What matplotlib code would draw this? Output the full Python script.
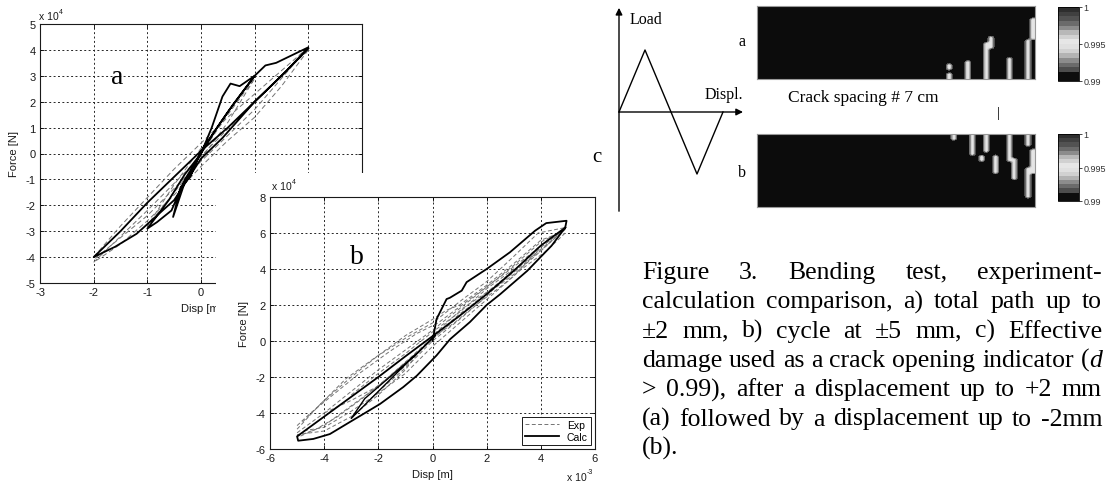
import numpy as np
import matplotlib.pyplot as plt
from matplotlib.colors import ListedColormap
from matplotlib.patches import Rectangle

plt.rcParams['axes.unicode_minus'] = False

# ---- data: plot a (disp in mm, force in 1e4 N) ----
calc_a_x = [0.0, 0.2, 0.4, 0.55, 0.72, 1.0, 0.5, 0.0, -0.2, -0.38, -0.52, -0.3, 0.0,
            -0.3, -0.55, -0.82, -1.0, -0.6, -0.3, 0.0, 0.3, 0.6, 1.0, 1.2, 1.4, 2.0,
            1.6, 1.0, 0.4, 0.0, -0.5, -1.2, -1.6, -2.0, -1.5, -1.0, -0.5, 0.0, 0.5,
            1.0, 1.5, 2.0]
calc_a_y = [0.0, 1.0, 2.2, 2.7, 2.6, 3.0, 1.6, 0.1, -0.9, -1.3, -2.45, -1.1, 0.0,
            -1.0, -2.2, -2.65, -2.9, -1.8, -0.8, 0.0, 1.0, 1.9, 3.0, 3.4, 3.5, 4.1,
            3.2, 2.0, 0.6, -0.2, -1.8, -3.1, -3.6, -4.0, -3.0, -1.9, -0.9, 0.1, 1.0,
            2.0, 3.0, 4.05]

exp_a_x = [
    [-2.0, -1.0, 0.0, 1.0, 2.0],
    [2.0, 1.0, 0.0, -1.0, -2.0],
    [0.0, 0.5, 1.0, 0.5, 0.0, -0.5, -1.0, -0.5, 0.0],
    [-2.0, -1.5, -1.0, -0.5, 0.0, 0.5, 1.0, 1.5, 2.0],
    [2.0, 1.5, 1.0, 0.5, 0.0, -0.5, -1.0, -1.5, -2.0],
]
exp_a_y = [
    [-4.2, -2.2, -0.1, 2.0, 4.0],
    [4.1, 1.7, -0.3, -2.4, -4.1],
    [0.0, 1.5, 2.9, 1.2, -0.2, -1.5, -2.8, -1.2, 0.2],
    [-4.0, -2.8, -1.7, -0.6, 0.4, 1.4, 2.3, 3.2, 4.1],
    [4.0, 2.6, 1.4, 0.5, -0.5, -1.6, -2.6, -3.5, -4.2],
]

# ---- data: plot b (disp in 1e-3 m, force in 1e4 N) ----
calc_b_x = [0.0, 0.15, 0.52, 0.64, 1.08, 1.26, 2.0, 2.86, 3.79, 4.2, 4.95, 4.9, 4.4,
            3.5, 2.5, 2.0, 1.38, 0.65, 0.15, -0.58, -1.08, -1.94, -2.56, -3.05, -3.79,
            -4.4, -4.96, -5.0, -4.0, -3.0, -2.0, -1.0, 0.03, 1.0, 2.0, 3.0, 4.0, 4.9]
calc_b_y = [0.0, 1.22, 2.33, 2.4, 2.8, 3.27, 4.0, 4.93, 6.13, 6.55, 6.68, 6.3, 5.3,
            3.9, 2.6, 2.0, 1.05, 0.1, -0.8, -1.93, -2.56, -3.5, -4.06, -4.5, -5.17,
            -5.44, -5.54, -5.3, -4.2, -3.1, -2.0, -0.85, 0.3, 1.4, 2.6, 3.9, 5.3, 6.3]
calc_b2_x = [0.1, -1.0, -2.0, -3.0, -2.5, -1.5, -0.5, 0.1]
calc_b2_y = [0.3, -1.3, -2.8, -4.3, -3.2, -1.9, -0.6, 0.3]

exp_b_x = [
    [-5.0, -4.2, -3.2, -2.1, -0.9, 0.0, 1.1, 2.0, 3.0, 3.9, 4.9,
     4.9, 3.9, 2.4, 1.1, 0.15, -0.5, -1.0, -2.0, -3.0, -4.0, -5.0],
    [-5.0, -4.0, -3.0, -2.0, -1.0, 0.0, 1.0, 2.0, 3.0, 4.0, 4.8,
     4.0, 3.0, 2.0, 1.0, 0.0, -1.0, -2.0, -3.0, -4.0, -4.9],
    [-4.8, -4.0, -3.0, -2.0, -1.0, 0.0, 0.5, 1.0, 2.0, 3.0, 4.0, 4.7,
     4.0, 3.0, 2.0, 1.0, 0.0, -1.0, -2.0, -3.0, -4.0, -4.8],
    [-3.0, -2.0, -1.0, 0.0, 1.0, 2.0, 3.0, 2.0, 1.0, 0.0, -1.0, -2.0, -3.0],
    [-4.0, -3.0, -2.0, -1.0, 0.0, 1.0, 2.0, 3.0, 4.0, 5.0],
    [-5.0, -4.5, -3.6, -2.7, -1.6, -0.6, 0.2, 1.0, 1.9, 2.8, 3.6, 4.4, 4.9],
    [4.9, 4.2, 3.3, 2.5, 1.6, 0.8, 0.0, -0.8, -1.7, -2.6, -3.5, -4.3, -5.0],
]
exp_b_y = [
    [-4.9, -3.6, -2.1, -0.9, 0.25, 1.0, 2.3, 3.3, 4.7, 6.0, 6.3,
     6.2, 4.9, 3.1, 1.8, 0.5, -0.6, -1.6, -3.0, -4.2, -5.0, -5.2],
    [-5.1, -4.0, -2.8, -1.6, -0.5, 0.6, 1.8, 3.0, 4.2, 5.5, 6.1,
     5.1, 3.9, 2.7, 1.4, 0.1, -1.2, -2.5, -3.6, -4.7, -5.3],
    [-4.5, -3.3, -2.0, -0.8, 0.3, 1.2, 1.7, 2.0, 3.1, 4.3, 5.6, 6.0,
     5.2, 3.6, 2.3, 1.0, -0.3, -1.8, -2.9, -3.9, -4.8, -5.0],
    [-3.0, -1.8, -0.7, 0.5, 1.6, 2.9, 4.0, 2.5, 1.2, 0.0, -1.5, -2.8, -4.3],
    [-4.0, -3.3, -2.5, -1.4, 0.2, 1.5, 2.6, 3.7, 5.0, 6.4],
    [-4.7, -4.0, -2.9, -1.8, -0.6, 0.4, 1.0, 1.9, 2.9, 3.9, 4.8, 5.8, 6.2],
    [6.0, 5.0, 4.0, 3.0, 2.0, 1.0, 0.2, -0.9, -2.1, -3.2, -4.2, -4.9, -5.3],
]

# ---- data: load schematic ----
load_time = [0, 1, 3, 4]
load_value = [0, 1, -1, 0]

# ---- data: crack maps (x position, top, bottom as fractions of the map) ----
crack_a_x = [0.687, 0.687, 0.759, 0.84, 0.83, 0.914, 0.986, 0.993, 1.0]
crack_a_y0 = [0.84, 0.95, 0.77, 0.42, 0.5, 0.73, 0.48, 0.18, 0.18]
crack_a_y1 = [0.89, 1.0, 1.0, 0.55, 1.0, 1.0, 1.0, 0.45, 0.45]
crack_b_x = [0.705, 0.773, 0.788, 0.81, 0.838, 0.856, 0.91, 0.935, 0.975, 0.989, 0.995, 1.0]
crack_b_y0 = [0.0, 0.0, 0.23, 0.31, 0.0, 0.31, 0.0, 0.34, 0.0, 0.48, 0.2, 0.2]
crack_b_y1 = [0.05, 0.2, 0.25, 0.33, 0.23, 0.52, 0.34, 0.59, 0.14, 0.85, 0.5, 0.5]
crack_value = 0.9953
cbar_ticks = [0.99, 0.995, 1.0]
cbar_labels = ['0.99', '0.995', '1']
gray_steps = [0.05, 0.05, 0.30, 0.42, 0.55, 0.70, 0.82, 0.88,
              0.90, 0.82, 0.72, 0.55, 0.42, 0.32, 0.25, 0.18]

caption_lines = [
    "Figure 3. Bending test, experiment-",
    "calculation comparison, a) total path up to",
    "±2 mm, b) cycle at ±5 mm, c) Effective",
    "damage used as a crack opening indicator (_d_",
    "> 0.99), after a displacement up to +2 mm",
    "(a) followed by a displacement up to -2mm",
    "(b).",
]

W, H = 1111, 489
fig = plt.figure(figsize=(W / 100, H / 100), dpi=100)
SANS = 'Liberation Sans'
SERIF = 'Liberation Serif'


def box(l, t, r, b):
    return [l / W, 1 - b / H, (r - l) / W, (b - t) / H]


def pt(x, y):
    return x / W, 1 - y / H


def style_matlab(ax):
    ax.grid(True, color='0.15', linestyle=(0, (2, 2.5)), linewidth=0.7)
    ax.tick_params(direction='in', length=3, width=0.6, labelsize=8,
                   labelcolor='0.1', top=True, right=True, pad=3)
    for lab in ax.get_xticklabels() + ax.get_yticklabels():
        lab.set_fontfamily(SANS)
    for s in ax.spines.values():
        s.set_linewidth(0.8)
        s.set_color('0.1')


def sci_label(x, y, exp):
    fig.text(*pt(x, y), 'x 10', fontsize=7.5, family=SANS, color='0.1',
             ha='left', va='center')
    fig.text(*pt(x + 20, y - 5), exp, fontsize=5, family=SANS, color='0.1',
             ha='left', va='center')


# ---- plot a ----
ax_a = fig.add_axes(box(40, 25, 362, 284))
ax_a.set_zorder(1)
for xs, ys in zip(exp_a_x, exp_a_y):
    ax_a.plot(xs, ys, color='0.45', lw=0.7, dashes=(5, 3))
ax_a.plot(calc_a_x, calc_a_y, color='black', lw=1.3)
ax_a.set_xlim(-3, 3)
ax_a.set_ylim(-5, 5)
ax_a.set_xticks(range(-3, 4))
ax_a.set_yticks(range(-5, 6))
style_matlab(ax_a)
ax_a.set_xlabel('Disp [m]', fontsize=8, family=SANS, color='0.1', labelpad=4)
ax_a.set_ylabel('Force [N]', fontsize=8, family=SANS, color='0.1', labelpad=5)
sci_label(39, 17, '4')
fig.text(*pt(117, 77), 'a', fontsize=20, family=SERIF, ha='center', va='center')

fig.add_artist(Rectangle(pt(216, 489), (600 - 216) / W, (489 - 174) / H,
                         transform=fig.transFigure, facecolor='white',
                         edgecolor='none', zorder=1.5))

# ---- plot b ----
ax_b = fig.add_axes(box(270, 198, 595, 450))
ax_b.set_zorder(2)
for i, (xs, ys) in enumerate(zip(exp_b_x, exp_b_y)):
    ax_b.plot(xs, ys, color='0.45', lw=0.7, dashes=(4, 2.5),
              label='Exp' if i == 0 else None)
ax_b.plot(calc_b_x, calc_b_y, color='black', lw=1.3, label='Calc')
ax_b.plot(calc_b2_x, calc_b2_y, color='black', lw=1.0)
ax_b.set_xlim(-6, 6)
ax_b.set_ylim(-6, 8)
ax_b.set_xticks(range(-6, 7, 2))
ax_b.set_yticks(range(-6, 9, 2))
style_matlab(ax_b)
ax_b.set_xlabel('Disp [m]', fontsize=8, family=SANS, color='0.1', labelpad=4)
ax_b.set_ylabel('Force [N]', fontsize=8, family=SANS, color='0.1', labelpad=5)
leg = ax_b.legend(loc='lower right', frameon=True, fancybox=False,
                  edgecolor='0.1', framealpha=1, borderaxespad=0.4,
                  handlelength=3.2, borderpad=0.3, labelspacing=0.2,
                  prop={'family': SANS, 'size': 7.5})
leg.get_frame().set_linewidth(0.7)
sci_label(272, 187, '4')
sci_label(567, 478, '-3')
fig.text(*pt(357, 258), 'b', fontsize=20, family=SERIF, ha='center', va='center')

# ---- load schematic ----
ax_l = fig.add_axes(box(606, 4.5, 749, 218.4))
ax_l.set_xlim(-0.5, 5.0)
ax_l.set_ylim(-1.7, 1.75)
ax_l.axis('off')
ax_l.plot(load_time, load_value, color='black', lw=1)
arrow = dict(arrowstyle='-|>', color='black', lw=1, mutation_scale=10,
             shrinkA=0, shrinkB=0)
ax_l.annotate('', xy=(0, 1.68), xytext=(0, -1.6), arrowprops=arrow)
ax_l.annotate('', xy=(4.77, 0), xytext=(0, 0), arrowprops=arrow)
ax_l.text(0.42, 1.5, 'Load', fontsize=11.5, family=SERIF, ha='left', va='center')
ax_l.text(3.3, 0.29, 'Displ.', fontsize=11.5, family=SERIF, ha='left', va='center')
fig.text(*pt(597, 157), 'c', fontsize=15, family=SERIF, ha='center', va='center')

# ---- crack maps ----
cmap = ListedColormap([(g, g, g) for g in gray_steps])
n_rows, n_cols = 24, 60


def crack_grid(xs, y0s, y1s):
    grid = np.full((n_rows, n_cols), 0.99)
    for x, y0, y1 in zip(xs, y0s, y1s):
        c = int(round(x * (n_cols - 1)))
        r0 = int(round(y0 * (n_rows - 1)))
        r1 = int(round(y1 * (n_rows - 1)))
        grid[r0:r1 + 1, c] = crack_value
    return grid


maps = [
    (crack_grid(crack_a_x, crack_a_y0, crack_a_y1), (757, 7, 1035, 80), (1058, 8, 1079, 82), 'a', 42),
    (crack_grid(crack_b_x, crack_b_y0, crack_b_y1), (757, 135, 1035, 208), (1058, 135, 1079, 202), 'b', 173),
]
for grid, ib, cb, lab, ly in maps:
    ax_m = fig.add_axes(box(*ib))
    im = ax_m.imshow(grid, cmap=cmap, vmin=0.99, vmax=1.0, aspect='auto',
                     interpolation='bilinear', interpolation_stage='data')
    ax_m.set_xticks([])
    ax_m.set_yticks([])
    for s in ax_m.spines.values():
        s.set_color('0.6')
        s.set_linewidth(0.8)
    cax = fig.add_axes(box(*cb))
    cbar = fig.colorbar(im, cax=cax, ticks=cbar_ticks)
    cbar.ax.set_yticklabels(cbar_labels)
    cbar.ax.tick_params(labelsize=6.5, length=2, width=0.5, pad=1, labelcolor='0.2')
    for t in cbar.ax.get_yticklabels():
        t.set_fontfamily(SANS)
    cbar.outline.set_linewidth(0.6)
    fig.text(*pt(742, ly), lab, fontsize=11.5, family=SERIF, ha='center', va='center')

fig.text(*pt(863, 98), 'Crack spacing # 7 cm', fontsize=12.5, family=SERIF,
         ha='center', va='center')
fig.text(*pt(998, 114), '|', fontsize=11, family=SERIF, ha='center', va='center')

# ---- caption, justified ----
renderer = fig.canvas.get_renderer()
cap_left, cap_right = 642, 1102
baseline = 279
for li, line in enumerate(caption_lines):
    words = []
    for w in line.split(' '):
        pieces = []
        italic = False
        for part in w.split('_'):
            if part:
                t = fig.text(0, 0, part, fontsize=18.5, family=SERIF, va='baseline',
                             style='italic' if italic else 'normal')
                pieces.append((t, t.get_window_extent(renderer).width))
            italic = not italic
        words.append(pieces)
    widths = [sum(wd for _, wd in p) for p in words]
    if li < len(caption_lines) - 1 and len(words) > 1:
        gap = (cap_right - cap_left - sum(widths)) / (len(words) - 1)
    else:
        gap = 6
    x = cap_left
    y = baseline + li * 29.3
    for pieces, wsum in zip(words, widths):
        xx = x
        for t, wd in pieces:
            t.set_position(pt(xx, y))
            xx += wd
        x += wsum + gap

fig.savefig('out.png', dpi=100)
